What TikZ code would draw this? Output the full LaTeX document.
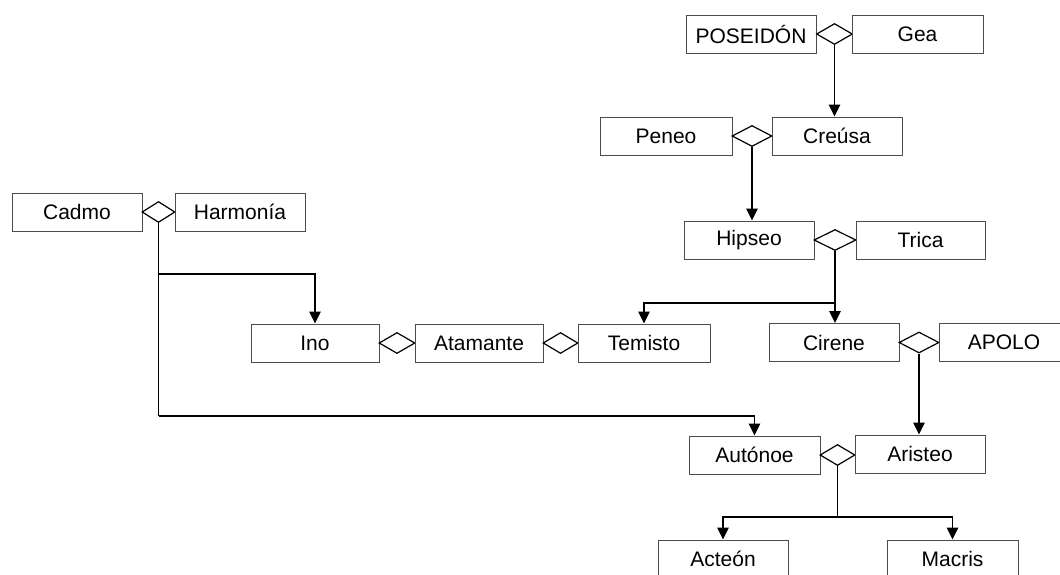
\documentclass[tikz,border=0pt]{standalone}
\usepackage{fontspec}
\setmainfont{Liberation Sans}
\usetikzlibrary{shapes.geometric,arrows.meta}
\begin{document}
\begin{tikzpicture}[x=1pt,y=-1pt,
  person/.style={draw=black!70,line width=1pt,minimum width=130pt,minimum height=38pt,
    inner sep=0pt,font=\fontsize{21}{25}\selectfont,fill=white},
  union/.style={draw=black,line width=1.2pt,shape=diamond,aspect=1.75,inner sep=0pt,
    minimum width=#1,minimum height=21pt},
  union/.default=36pt,
  link/.style={draw=black,line width=1.2pt},
  child/.style={link,-{Triangle[length=12pt,width=11.5pt]}}]
\useasboundingbox (0,0) rectangle (1060,574);

% first generation
\node[person] (poseidon) at (751,34) {POSEIDÓN};
\node[union] (u1) at (834.5,34) {};
\node[person,minimum width=131pt] (gea) at (917.5,34) {Gea};

\node[person,minimum width=132pt] (peneo) at (666,136) {Peneo};
\node[union=40pt] (u2) at (752,136) {};
\node[person] (creusa) at (837,136) {Creúsa};

\node[person] (hipseo) at (749,240) {Hipseo};
\node[union=42pt] (u3) at (835,240) {};
\node[person,minimum width=129pt] (trica) at (920.5,240) {Trica};

\node[person] (cadmo) at (77,212) {Cadmo};
\node[union=33pt] (u4) at (158.5,212) {};
\node[person] (harmonia) at (240,212) {Harmonía};

% middle row
\node[person,minimum width=128pt] (ino) at (315,343) {Ino};
\node[union] (u5) at (397,343) {};
\node[person,minimum width=128pt] (atamante) at (479,343) {Atamante};
\node[union=35pt] (u6) at (560.5,343) {};
\node[person,minimum width=132pt] (temisto) at (644,343) {Temisto};

\node[person] (cirene) at (834,342.5) {Cirene};
\node[union=40pt] (u7) at (919,342.5) {};
\node[person] (apolo) at (1004,342.5) {APOLO};

% lower rows
\node[person,minimum width=131pt] (autonoe) at (754.5,455) {Autónoe};
\node[union=35pt] (u8) at (837.5,455) {};
\node[person] (aristeo) at (920,454) {Aristeo};

\node[person] (acteon) at (723,559) {Acteón};
\node[person,minimum width=131pt] (macris) at (952.5,559) {Macris};

% descent lines
\draw[child] (u1.south) -- (u1.south |- creusa.north);
\draw[child] (u2.south) -- (u2.south |- hipseo.north);

\coordinate (j3) at (835,303);
\draw[link] (u3.south) -- (j3);
\draw[child] (j3) -- (j3 |- cirene.north);
\draw[child] (j3) -| (temisto.north);

\coordinate (j4) at (158.5,274);
\coordinate (k4) at (158.5,416);
\draw[link] (u4.south) -- (k4);
\draw[child] (j4) -| (ino.north);
\draw[child] (k4) -| (autonoe.north);

\draw[child] (u7.south) -- (u7.south |- aristeo.north);

\coordinate (j8) at (837.5,517);
\draw[link] (u8.south) -- (j8);
\draw[child] (j8) -| (acteon.north);
\draw[child] (j8) -| (macris.north);
\end{tikzpicture}
\end{document}
